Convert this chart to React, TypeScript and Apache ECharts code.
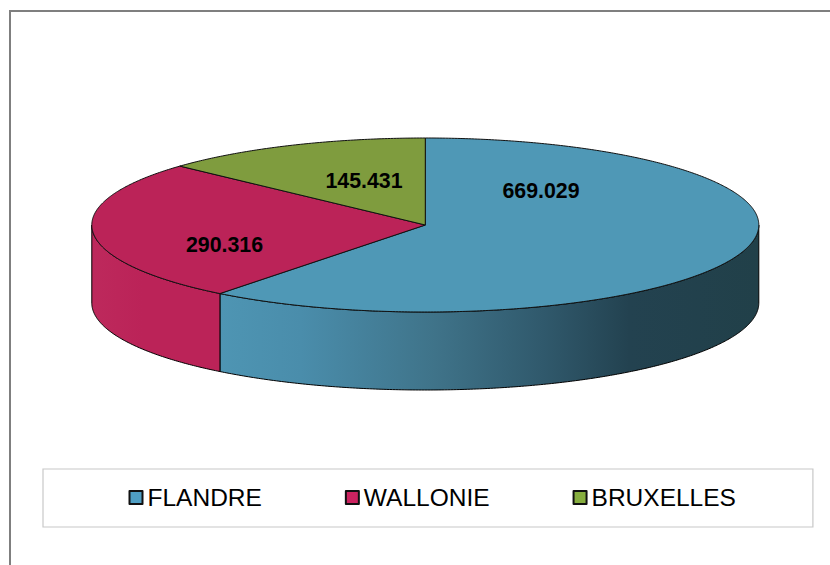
import React, { useEffect, useRef } from "react";
import * as echarts from "echarts";

const categories = ["FLANDRE", "WALLONIE", "BRUXELLES"];
const regionValues = [669029, 290316, 145431];
const topColors = ["#4f98b6", "#bb2358", "#7f9c3e"];
const legendColors = ["#4f9fc4", "#cc2360", "#87ae3f"];

const CX = 425.3;
const CY = 225;
const RX = 333.5;
const RY = 87;
const DEPTH = 78;
const labelPositions = [
  [541, 191],
  [224.5, 245],
  [364, 181],
];

const total = regionValues.reduce((a, b) => a + b, 0);
const fmt = (v: number) => (v / 1000).toFixed(3);

const pt = (deg: number, dy = 0): number[] => {
  const r = (deg * Math.PI) / 180;
  return [CX + RX * Math.sin(r), CY - RY * Math.cos(r) + dy];
};
const arc = (from: number, to: number, dy = 0): number[][] => {
  const out: number[][] = [];
  const n = Math.max(2, Math.ceil(Math.abs(to - from) * 2));
  for (let i = 0; i <= n; i++) out.push(pt(from + ((to - from) * i) / n, dy));
  return out;
};

const wallFill = (i: number): any => {
  if (i === 0) {
    return {
      type: "linear",
      x: 0,
      y: 0,
      x2: 1,
      y2: 0,
      colorStops: [
        { offset: 0, color: "#4e95b3" },
        { offset: 0.15, color: "#4a8dab" },
        { offset: 0.4, color: "#3f7389" },
        { offset: 0.6, color: "#30596c" },
        { offset: 0.76, color: "#234250" },
        { offset: 1, color: "#214049" },
      ],
    };
  }
  if (i === 1) {
    return {
      type: "linear",
      x: 0,
      y: 0,
      x2: 1,
      y2: 0,
      colorStops: [
        { offset: 0, color: "#bd295c" },
        { offset: 0.4, color: "#bb2358" },
        { offset: 1, color: "#bb2358" },
      ],
    };
  }
  return topColors[i];
};

const makeSeries = (i: number): any => {
  const before = regionValues.slice(0, i).reduce((a, b) => a + b, 0);
  const start = (before / total) * 360;
  const end = ((before + regionValues[i]) / total) * 360;
  return {
    type: "custom",
    name: categories[i],
    coordinateSystem: "none",
    silent: true,
    data: [[start, end, regionValues[i]]],
    renderItem: (_p: any, api: any) => {
      const a = api.value(0) as number;
      const b = api.value(1) as number;
      const v = api.value(2) as number;
      const children: any[] = [];
      const wa = Math.max(a, 90);
      const wb = Math.min(b, 270);
      if (wb > wa) {
        children.push({
          type: "polygon",
          shape: { points: [...arc(wa, wb, 0), ...arc(wb, wa, DEPTH)] },
          style: { fill: wallFill(i), stroke: "#000", lineWidth: 1 },
        });
      }
      children.push({
        type: "polygon",
        shape: { points: [[CX, CY], ...arc(a, b)] },
        style: { fill: topColors[i], stroke: "#111", lineWidth: 1 },
      });
      children.push({
        type: "text",
        x: labelPositions[i][0],
        y: labelPositions[i][1],
        style: {
          text: fmt(v),
          fill: "#000",
          font: 'bold 21.33px "Liberation Sans"',
          align: "center",
          verticalAlign: "middle",
        },
      });
      return { type: "group", children };
    },
  };
};

export default function App() {
  const ref = useRef<HTMLDivElement>(null);
  useEffect(() => {
    const chart = echarts.init(ref.current!, null, { renderer: "svg" });
    chart.setOption({
      animation: false,
      backgroundColor: "#fff",
      graphic: [
        {
          type: "rect",
          silent: true,
          shape: { x: 10, y: 11, width: 900, height: 700 },
          style: { fill: "none", stroke: "#7f7f7f", lineWidth: 2 },
        },
      ],
      legend: {
        left: 43,
        top: 469,
        orient: "horizontal",
        padding: [16, 77, 17, 85.5],
        itemGap: 83,
        itemWidth: 13,
        itemHeight: 13,
        borderColor: "#c8c8c8",
        borderWidth: 1.2,
        selectedMode: false,
        textStyle: {
          fontFamily: "Liberation Sans",
          fontSize: 24.5,
          color: "#000",
          lineHeight: 24,
        },
        data: categories.map((name, i) => ({
          name,
          icon: "rect",
          itemStyle: {
            color: legendColors[i],
            borderColor: "#111",
            borderWidth: 2,
            borderJoin: "round",
          },
        })),
      },
      series: categories.map((_, i) => makeSeries(i)),
    });
    return () => chart.dispose();
  }, []);
  return (
    <div
      ref={ref}
      style={{ position: "absolute", left: 0, top: 0, width: 830, height: 565 }}
    />
  );
}
